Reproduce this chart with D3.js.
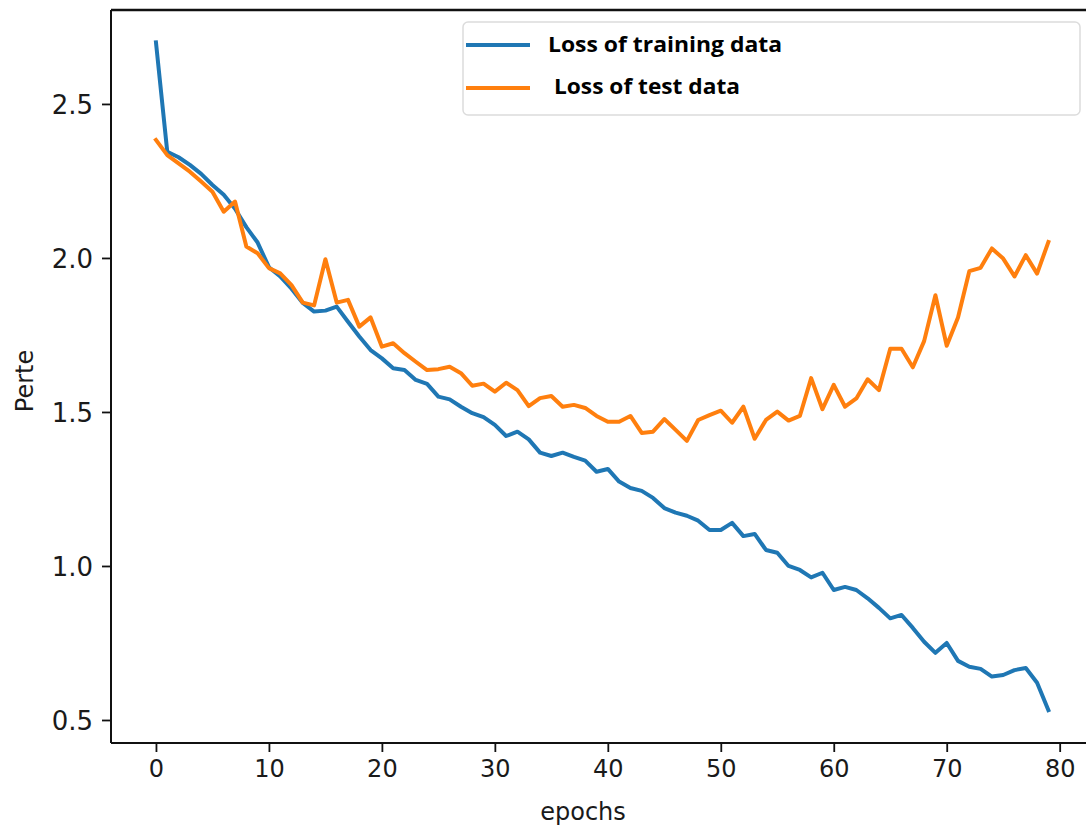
<!DOCTYPE html>
<html>
<head>
<meta charset="utf-8">
<script src="https://cdn.jsdelivr.net/npm/d3@7"></script>
<style>
  html, body { margin: 0; padding: 0; background: #fff; }
  #chart { width: 1086px; height: 828px; }
</style>
</head>
<body>
<div id="chart"></div>
<script>
// Loss per epoch
const trainLoss = [
  2.70, 2.345, 2.327, 2.302, 2.273, 2.237, 2.205, 2.16, 2.10, 2.05,
  1.97, 1.94, 1.90, 1.854, 1.826, 1.829, 1.842, 1.793, 1.745, 1.701,
  1.674, 1.642, 1.636, 1.604, 1.591, 1.55, 1.541, 1.517, 1.496, 1.483,
  1.458, 1.422, 1.436, 1.411, 1.368, 1.357, 1.368, 1.354, 1.342, 1.306,
  1.315, 1.274, 1.253, 1.244, 1.221, 1.188, 1.173, 1.163, 1.147, 1.117,
  1.117, 1.140, 1.097, 1.104, 1.052, 1.043, 1.0, 0.987, 0.963, 0.978,
  0.922, 0.932, 0.922, 0.895, 0.864, 0.830, 0.841, 0.799, 0.754, 0.718,
  0.75, 0.692, 0.673, 0.666, 0.641, 0.646, 0.662, 0.669, 0.621, 0.532
];
const testLoss = [
  2.383, 2.334, 2.307, 2.280, 2.248, 2.215, 2.150, 2.183, 2.037, 2.015,
  1.967, 1.950, 1.912, 1.855, 1.846, 1.996, 1.855, 1.864, 1.777, 1.807,
  1.712, 1.723, 1.691, 1.663, 1.636, 1.639, 1.647, 1.626, 1.585, 1.592,
  1.566, 1.595, 1.571, 1.519, 1.545, 1.552, 1.517, 1.523, 1.513, 1.487,
  1.468, 1.468, 1.487, 1.432, 1.436, 1.477, 1.442, 1.406, 1.474, 1.490,
  1.504, 1.465, 1.517, 1.413, 1.474, 1.501, 1.472, 1.487, 1.61, 1.509,
  1.588, 1.517, 1.544, 1.606, 1.571, 1.705, 1.705, 1.645, 1.73, 1.879,
  1.715, 1.807, 1.957, 1.968, 2.031, 1.998, 1.940, 2.009, 1.949, 2.052
];
const xTicks = [0, 10, 20, 30, 40, 50, 60, 70, 80];
const yTicks = [0.5, 1.0, 1.5, 2.0, 2.5];
const seriesNames = ["Loss of training data", "Loss of test data"];
const seriesColors = ["#1f77b4", "#ff7f0e"];

const W = 1086, H = 828;
const svg = d3.select("#chart").append("svg")
    .attr("width", W).attr("height", H)
    .style("font-family", "'DejaVu Sans', sans-serif");

// axes box (right edge runs past the picture, as in the reference)
const plotL = 111, plotR = 1093, plotT = 10, plotB = 743;
const x = d3.scaleLinear().domain([-3.98, 82.95]).range([plotL, plotR]);
const y = d3.scaleLinear().domain([0.4253, 2.805]).range([plotB, plotT]);

const line = d3.line()
    .x((d, i) => x(i))
    .y(d => y(d));

[trainLoss, testLoss].forEach((s, k) => {
  svg.append("path")
      .datum(s)
      .attr("fill", "none")
      .attr("stroke", seriesColors[k])
      .attr("stroke-width", 4)
      .attr("stroke-linejoin", "round")
      .attr("stroke-linecap", "square")
      .attr("d", line);
});

// spines
svg.append("line").attr("x1", plotL).attr("x2", plotL).attr("y1", plotT).attr("y2", plotB)
    .attr("stroke", "#111").attr("stroke-width", 2);
svg.append("line").attr("x1", plotL).attr("x2", W).attr("y1", plotB).attr("y2", plotB)
    .attr("stroke", "#111").attr("stroke-width", 2);
svg.append("line").attr("x1", plotL).attr("x2", W).attr("y1", plotT).attr("y2", plotT)
    .attr("stroke", "#111").attr("stroke-width", 2.5);

// axes
const xAxis = svg.append("g")
    .attr("transform", "translate(0," + plotB + ")")
    .call(d3.axisBottom(x).tickValues(xTicks).tickSize(9).tickPadding(8).tickFormat(d3.format("d")));
const yAxis = svg.append("g")
    .attr("transform", "translate(" + plotL + ",0)")
    .call(d3.axisLeft(y).tickValues(yTicks).tickSize(9).tickPadding(9).tickFormat(d3.format(".1f")));

[xAxis, yAxis].forEach(g => {
  g.select(".domain").remove();
  g.selectAll(".tick line").attr("stroke", "#111").attr("stroke-width", 1.8);
  g.selectAll(".tick text").attr("fill", "#1a1a1a").style("font-family", "'DejaVu Sans', sans-serif");
});
xAxis.selectAll(".tick text").style("font-size", "24px");
yAxis.selectAll(".tick text").style("font-size", "26px").attr("dy", "0.36em");

// axis labels
svg.append("text")
    .attr("x", 583).attr("y", 820)
    .attr("text-anchor", "middle")
    .style("font-size", "24px").attr("fill", "#1a1a1a")
    .text("epochs");
svg.append("text")
    .attr("transform", "translate(33,381) rotate(-90)")
    .attr("text-anchor", "middle")
    .style("font-size", "24px").attr("fill", "#1a1a1a")
    .text("Perte");

// legend
const legend = svg.append("g");
legend.append("rect")
    .attr("x", 463).attr("y", 22).attr("width", 617).attr("height", 93)
    .attr("rx", 5).attr("fill", "#fff").attr("stroke", "#dcdcdc").attr("stroke-width", 1.5);
const legendRows = [
  {y: 45, tx: 548, ty: 44},
  {y: 88, tx: 554, ty: 86}
];
seriesNames.forEach((name, k) => {
  const r = legendRows[k];
  legend.append("line")
      .attr("x1", 466).attr("x2", 530).attr("y1", r.y).attr("y2", r.y)
      .attr("stroke", seriesColors[k]).attr("stroke-width", 4);
  legend.append("text")
      .attr("x", r.tx).attr("y", r.ty).attr("dy", "0.35em")
      .style("font-family", "'Open Sans', 'Noto Sans', sans-serif")
      .style("font-weight", "bold").style("font-size", "22px")
      .attr("fill", "#000")
      .attr("textLength", k === 0 ? 234 : 186)
      .attr("lengthAdjust", "spacingAndGlyphs")
      .text(name);
});
</script>
</body>
</html>
